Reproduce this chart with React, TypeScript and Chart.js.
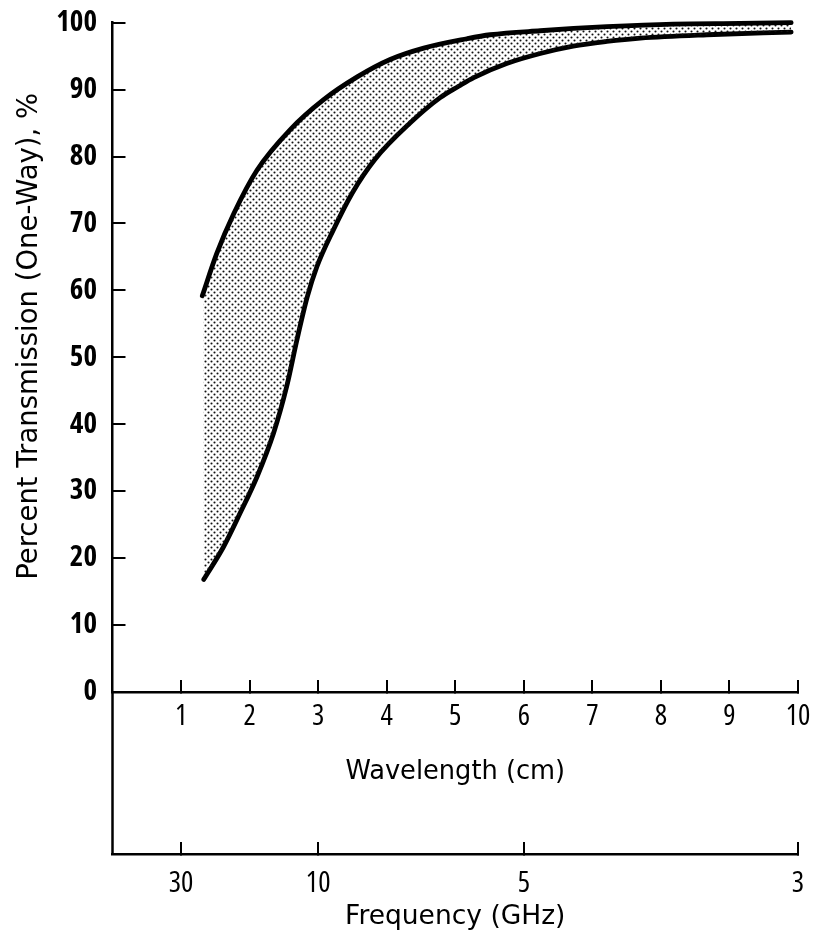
import { useEffect, useRef } from 'react';
import { Chart, registerables } from 'chart.js';

Chart.register(...registerables);

// Upper bound of the transmission band (wavelength cm, percent)
const upperWavelength = [1.31, 1.52, 1.77, 2.11, 2.59, 3.08, 3.57, 4.05, 4.54, 5.17, 5.51, 6.24, 7.21, 8.18, 9.15, 9.9];
const upperTransmission = [59.2, 65.5, 71.5, 78.0, 84.0, 88.5, 91.9, 94.5, 96.2, 97.6, 98.2, 98.8, 99.4, 99.8, 99.9, 100];

// Lower bound of the transmission band
const lowerWavelength = [1.33, 1.62, 1.86, 2.11, 2.35, 2.54, 2.69, 2.84, 2.98, 3.22, 3.5, 3.83, 4.34, 4.78, 5.05, 5.27, 5.75, 6.24, 6.72, 7.21, 7.7, 8.67, 9.9];
const lowerTransmission = [16.8, 21.7, 26.7, 32.2, 38.7, 45.6, 52.6, 59.0, 63.5, 69.0, 74.6, 79.6, 85.0, 88.8, 90.5, 91.8, 93.9, 95.4, 96.5, 97.2, 97.7, 98.2, 98.6];

const wavelengthTicks = [1, 2, 3, 4, 5, 6, 7, 8, 9, 10];
const frequencyTicks = [30, 10, 5, 3]; // GHz, placed at wavelength = 30 / f (cm)
const transmissionTicks = [0, 10, 20, 30, 40, 50, 60, 70, 80, 90, 100];

const yTitle = 'Percent Transmission (One-Way), %';
const xTitle = 'Wavelength (cm)';
const x2Title = 'Frequency (GHz)';

const NARROW = '"Open Sans", "DejaVu Sans Condensed", sans-serif';
const TITLE = '"DejaVu Sans", "Liberation Sans", sans-serif';

function makeDotPattern(): CanvasPattern | string {
  const c = document.createElement('canvas');
  c.width = 6;
  c.height = 6;
  const g = c.getContext('2d');
  if (!g) return '#ccc';
  g.fillStyle = '#111';
  g.beginPath();
  g.arc(1.5, 1.5, 1.05, 0, Math.PI * 2);
  g.arc(4.5, 4.5, 1.05, 0, Math.PI * 2);
  g.fill();
  const p = g.createPattern(c, 'repeat');
  return p || '#ccc';
}

const noPad = (s: any) => {
  s.paddingLeft = 0;
  s.paddingRight = 0;
  s.paddingTop = 0;
  s.paddingBottom = 0;
};

const extrasPlugin = {
  id: 'extras',
  afterDraw(chart: any) {
    const { ctx, chartArea, scales } = chart;
    const y = scales.y;
    const x2 = scales.x2;
    const xPix = chartArea.left;
    ctx.save();
    // the vertical axis continues down to the frequency axis
    ctx.strokeStyle = '#000';
    ctx.lineWidth = 2.5;
    ctx.beginPath();
    ctx.moveTo(xPix, chartArea.bottom);
    ctx.lineTo(xPix, x2.top + 1);
    ctx.stroke();
    // y axis title
    ctx.fillStyle = '#000';
    ctx.font = '27.5px ' + TITLE;
    ctx.textAlign = 'center';
    ctx.textBaseline = 'middle';
    ctx.translate(30, (y.getPixelForValue(0) + y.getPixelForValue(100)) / 2 - 21);
    ctx.rotate(-Math.PI / 2);
    ctx.fillText(yTitle, 0, 0);
    ctx.restore();
  },
};

export default function App() {
  const ref = useRef<HTMLCanvasElement | null>(null);

  useEffect(() => {
    if (!ref.current) return;
    const pattern = makeDotPattern();
    const upper = upperWavelength.map((x, i) => ({ x, y: upperTransmission[i] }));
    const lower = lowerWavelength.map((x, i) => ({ x, y: lowerTransmission[i] }));

    const chart = new Chart(ref.current, {
      type: 'line',
      data: {
        datasets: [
          {
            data: upper,
            borderColor: '#000',
            borderWidth: 4.8,
            borderCapStyle: 'round',
            pointRadius: 0,
            cubicInterpolationMode: 'monotone',
            fill: '+1',
            backgroundColor: pattern as any,
            clip: false as any,
          },
          {
            data: lower,
            borderColor: '#000',
            borderWidth: 4.8,
            borderCapStyle: 'round',
            pointRadius: 0,
            cubicInterpolationMode: 'monotone',
            fill: false,
            clip: false as any,
          },
        ],
      },
      options: {
        animation: false,
        responsive: true,
        maintainAspectRatio: false,
        layout: { padding: { top: 22.7, right: 16, bottom: 0, left: 0 } },
        plugins: { legend: { display: false }, tooltip: { enabled: false } },
        scales: {
          y: {
            type: 'linear',
            position: 'left',
            min: 0,
            max: 100,
            afterBuildTicks: (s: any) => {
              s.ticks = transmissionTicks.map((v) => ({ value: v }));
            },
            afterFit: (s: any) => {
              s.width = 112.5;
              noPad(s);
            },
            ticks: {
              color: '#000',
              padding: 28.5,
              font: { family: NARROW, size: 29, weight: 'bold condensed' as any, lineHeight: 1.2 },
            },
            grid: {
              display: true,
              drawOnChartArea: false,
              drawTicks: true,
              tickLength: -13,
              color: '#000',
              lineWidth: 2,
            },
            border: { display: true, color: '#000', width: 2.5 },
          },
          x: {
            type: 'linear',
            position: 'bottom',
            weight: 0,
            min: 0,
            max: 10,
            afterBuildTicks: (s: any) => {
              s.ticks = wavelengthTicks.map((v) => ({ value: v }));
            },
            afterFit: (s: any) => {
              s.height = 162;
              noPad(s);
            },
            ticks: {
              color: '#000',
              padding: 19.5,
              autoSkip: false,
              maxRotation: 0,
              font: { family: NARROW, size: 29, weight: '500 condensed' as any, lineHeight: 1.2 },
            },
            grid: {
              display: true,
              drawOnChartArea: false,
              drawTicks: true,
              tickLength: -12,
              color: '#000',
              lineWidth: 2,
            },
            border: { display: true, color: '#000', width: 2.5 },
            title: {
              display: true,
              text: xTitle,
              color: '#000',
              font: { family: TITLE, size: 25.7, lineHeight: 1.2 },
              padding: { top: 0, bottom: 66 },
            },
          },
          x2: {
            type: 'linear',
            position: 'bottom',
            weight: 1,
            min: 0,
            max: 10,
            afterBuildTicks: (s: any) => {
              s.ticks = frequencyTicks.map((f) => ({ value: 30 / f }));
            },
            afterFit: (s: any) => {
              s.height = 82;
              noPad(s);
            },
            ticks: {
              color: '#000',
              padding: 24.5,
              autoSkip: false,
              maxRotation: 0,
              callback: (_v: any, i: number) => String(frequencyTicks[i]),
              font: { family: NARROW, size: 29, weight: '500 condensed' as any, lineHeight: 1.2 },
            },
            grid: {
              display: true,
              drawOnChartArea: false,
              drawTicks: true,
              tickLength: -12,
              color: '#000',
              lineWidth: 2,
            },
            border: { display: true, color: '#000', width: 2.5 },
            title: {
              display: true,
              text: x2Title,
              color: '#000',
              font: { family: TITLE, size: 26.5, lineHeight: 1.2 },
              padding: { top: 0, bottom: 3 },
            },
          },
        },
      },
      plugins: [extrasPlugin],
    });
    return () => chart.destroy();
  }, []);

  return (
    <div style={{ position: 'fixed', left: 0, top: 0, width: 814, height: 936, background: '#fff' }}>
      <canvas ref={ref} />
    </div>
  );
}
